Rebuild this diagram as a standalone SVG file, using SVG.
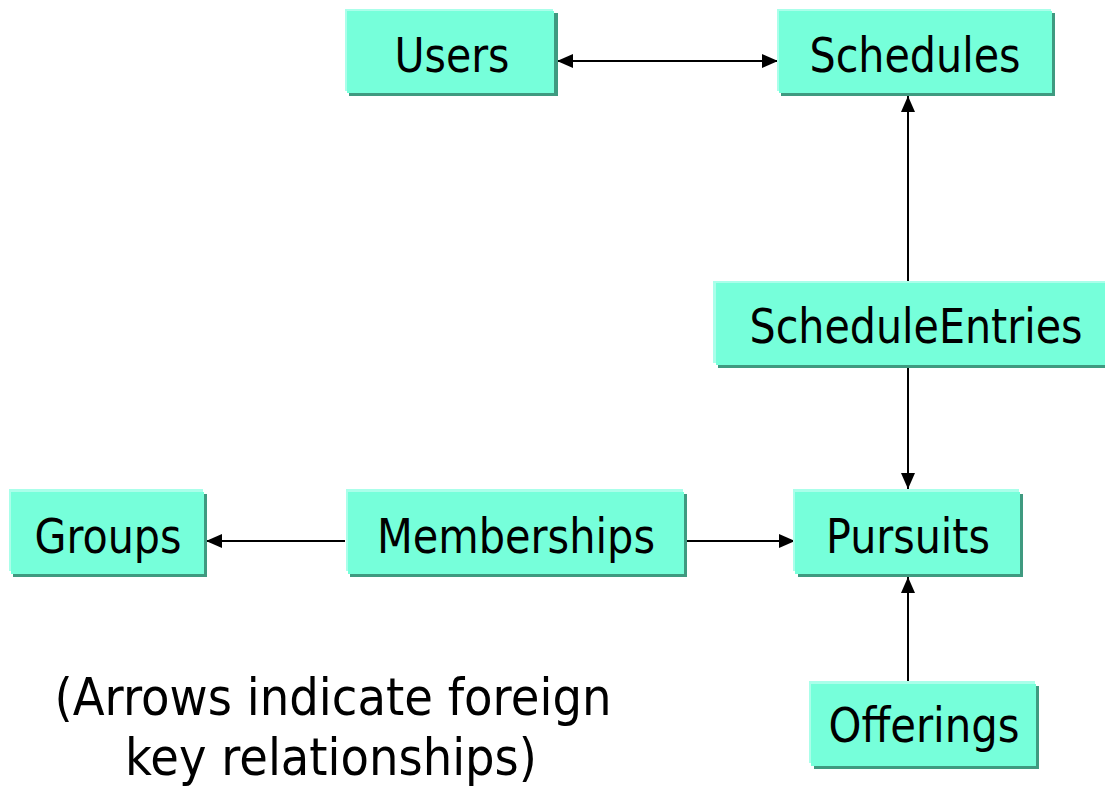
<svg xmlns="http://www.w3.org/2000/svg" width="1105" height="791" viewBox="0 0 1105 791">
  <style>
    .shadow { fill: #3f9a80; }
    .hi { fill: #aaffea; }
    .box { fill: #76ffda; }
    .lbl { font-family: "DejaVu Sans", Verdana, sans-serif; font-size: 48px; fill: #000; text-anchor: middle; }
    .cap { font-family: "DejaVu Sans", Verdana, sans-serif; font-size: 52px; fill: #000; text-anchor: middle; }
    .wire { stroke: #000; stroke-width: 2; fill: none; }
  </style>
  <defs>
    <marker id="head" viewBox="0 0 16 14" refX="16" refY="7" markerWidth="16" markerHeight="14" markerUnits="userSpaceOnUse" orient="auto-start-reverse">
      <path d="M0,0 L16,7 L0,14 Z" fill="#000"/>
    </marker>
  </defs>
  <rect width="1105" height="791" fill="#fff"/>

  <!-- connectors -->
  <g id="connectors">
    <line class="wire" x1="557" y1="61" x2="778" y2="61" marker-start="url(#head)" marker-end="url(#head)"/>
    <line class="wire" x1="908" y1="281" x2="908" y2="96" marker-end="url(#head)"/>
    <line class="wire" x1="908" y1="367" x2="908" y2="489" marker-end="url(#head)"/>
    <line class="wire" x1="345" y1="541" x2="206" y2="541" marker-end="url(#head)"/>
    <line class="wire" x1="686" y1="541" x2="795" y2="541" marker-end="url(#head)"/>
    <line class="wire" x1="908" y1="681" x2="908" y2="577" marker-end="url(#head)"/>
  </g>

  <!-- nodes: shadow, highlight, face, label -->
  <g id="users">
    <rect class="shadow" x="349" y="13" width="209" height="83"/>
    <rect class="hi" x="345" y="9" width="208" height="82"/>
    <rect class="box" x="347" y="11" width="207" height="82"/>
    <text class="lbl" x="452" y="72" textLength="115" lengthAdjust="spacingAndGlyphs">Users</text>
  </g>
  <g id="schedules">
    <rect class="shadow" x="781" y="13" width="274" height="83"/>
    <rect class="hi" x="777" y="9" width="274" height="82"/>
    <rect class="box" x="779" y="11" width="273" height="82"/>
    <text class="lbl" x="915" y="72" textLength="211" lengthAdjust="spacingAndGlyphs">Schedules</text>
  </g>
  <g id="scheduleentries">
    <rect class="shadow" x="718" y="285" width="387" height="83"/>
    <rect class="hi" x="713" y="281" width="392" height="82"/>
    <rect class="box" x="716" y="283" width="389" height="82"/>
    <text class="lbl" x="916" y="343" textLength="333" lengthAdjust="spacingAndGlyphs">ScheduleEntries</text>
  </g>
  <g id="groups">
    <rect class="shadow" x="13" y="494" width="194" height="83"/>
    <rect class="hi" x="9" y="489" width="194" height="82"/>
    <rect class="box" x="11" y="492" width="193" height="82"/>
    <text class="lbl" x="108" y="553" textLength="147" lengthAdjust="spacingAndGlyphs">Groups</text>
  </g>
  <g id="memberships">
    <rect class="shadow" x="350" y="494" width="337" height="83"/>
    <rect class="hi" x="346" y="489" width="337" height="82"/>
    <rect class="box" x="348" y="492" width="336" height="82"/>
    <text class="lbl" x="516" y="553" textLength="278" lengthAdjust="spacingAndGlyphs">Memberships</text>
  </g>
  <g id="pursuits">
    <rect class="shadow" x="798" y="494" width="225" height="83"/>
    <rect class="hi" x="793" y="489" width="226" height="82"/>
    <rect class="box" x="795" y="492" width="225" height="82"/>
    <text class="lbl" x="908" y="553" textLength="164" lengthAdjust="spacingAndGlyphs">Pursuits</text>
  </g>
  <g id="offerings">
    <rect class="shadow" x="814" y="686" width="225" height="83"/>
    <rect class="hi" x="809" y="681" width="226" height="82"/>
    <rect class="box" x="811" y="684" width="225" height="82"/>
    <text class="lbl" x="924" y="742" textLength="191" lengthAdjust="spacingAndGlyphs">Offerings</text>
  </g>

  <!-- caption -->
  <g id="caption">
    <text class="cap" x="333" y="715" textLength="557" lengthAdjust="spacingAndGlyphs">(Arrows indicate foreign</text>
    <text class="cap" x="331" y="775" textLength="412" lengthAdjust="spacingAndGlyphs">key relationships)</text>
  </g>
</svg>
